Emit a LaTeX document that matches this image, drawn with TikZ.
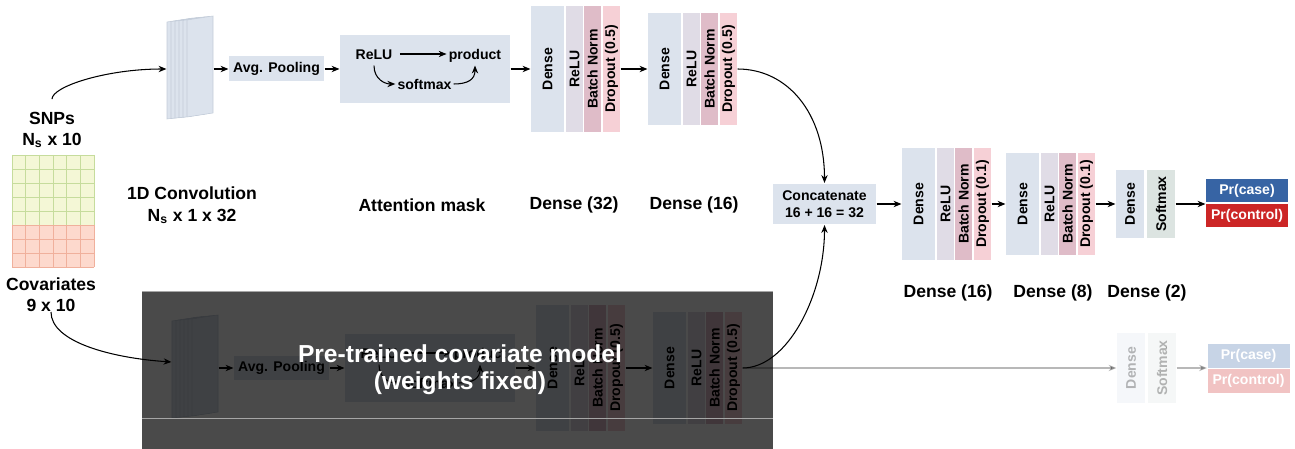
\documentclass[tikz,border=0pt]{standalone}
\usepackage{fontspec}
\setmainfont{Liberation Sans}
\usetikzlibrary{arrows.meta}

\definecolor{densec}{HTML}{DCE3ED}
\definecolor{reluc}{HTML}{E0DCE6}
\definecolor{bnc}{HTML}{DFBCC8}
\definecolor{dropc}{HTML}{F6D0D6}
\definecolor{softc}{HTML}{DCE4E1}
\definecolor{casec}{HTML}{3764A4}
\definecolor{ctrlc}{HTML}{CC2626}
\definecolor{snpfill}{HTML}{F4F7D6}
\definecolor{snpline}{HTML}{C6DC9C}
\definecolor{covfill}{HTML}{FDD9CD}
\definecolor{covline}{HTML}{F0B09C}
\definecolor{sheetline}{HTML}{C3CCD9}

% four columns of one dense layer: name, left x, centre y, height, dropout
\newcommand{\denseblock}[5]{%
  \node[col, fill=densec, minimum height=0.66cm, minimum width=#4] (#1-dense) at ({#2+16.5},#3) {Dense};
  \node[col, fill=reluc, minimum height=0.34cm, minimum width=#4] (#1-relu) at ({#2+43.5},#3) {ReLU};
  \node[col, fill=bnc, minimum height=0.34cm, minimum width=#4] (#1-bn) at ({#2+61.5},#3) {Batch Norm};
  \node[col, fill=dropc, minimum height=0.34cm, minimum width=#4] (#1-drop) at ({#2+80.5},#3) {Dropout (#5)};
}

% conv -> pooling -> attention -> dense (32) -> dense (16)
\newcommand{\pipeline}[1]{%
  \foreach \i in {0,...,5}
    \filldraw[sheet] ({167+4*\i},{22-0.4*\i}) -- ++(26,-4) -- ++(0,97) -- ++(-26,4) -- cycle;
  \node[inner sep=0, minimum width=0.92cm, minimum height=2cm] (#1-conv) at (190,69) {};
  \node[box, minimum width=1.9cm, minimum height=0.5cm] (#1-pool) at (276.5,69) {Avg. Pooling};
  \node[box, minimum width=3.4cm, minimum height=1.36cm] (#1-att) at (425,69) {};
  \node[op] (#1-relu) at (374,54) {ReLU};
  \node[op] (#1-prod) at (475,54) {product};
  \node[op] (#1-soft) at (424.5,84) {softmax};
  \draw[->, shorten <=3pt] (#1-relu) -- (#1-prod);
  \draw[->] (#1-relu.south) .. controls +(0,14) and +(-10,0) .. (#1-soft.west);
  \draw[->] (#1-soft.east) .. controls +(14,0) and +(0,14) .. (#1-prod.south);
  \denseblock{#1-d32}{531}{69}{2.54cm}{0.5}
  \denseblock{#1-d16}{648}{69}{2.24cm}{0.5}
  \draw[->] (#1-conv) -- (#1-pool);
  \draw[->] (#1-pool) -- (#1-att);
  \draw[->] (#1-att) -- (#1-d32-dense);
  \draw[->] (#1-d32-drop) -- (#1-d16-dense);
}

\begin{document}
\begin{tikzpicture}[x=0.02cm, y=-0.02cm, line width=0.6pt,
    >={Stealth[length=4.5pt, width=3.6pt]},
    box/.style={fill=densec, inner sep=0, font=\fontsize{8}{9.6}\selectfont\bfseries},
    col/.style={rotate=90, inner sep=0, font=\fontsize{8}{9.6}\selectfont\bfseries},
    op/.style={inner sep=1pt, text height=1.6ex, text depth=0.4ex, font=\fontsize{8}{9.6}\selectfont\bfseries},
    prbox/.style={minimum width=1.64cm, minimum height=0.48cm, inner sep=0, text=white, font=\fontsize{8}{9.6}\selectfont\bfseries},
    caption/.style={align=center, inner sep=0, font=\fontsize{10}{12}\selectfont\bfseries},
    sheet/.style={fill=densec, draw=sheetline, line width=0.3pt}]
\useasboundingbox (0,0) rectangle (1295,449);

% input matrix: SNP rows on top, covariate rows below
\fill[snpfill] (12,155) rectangle (94,225);
\fill[covfill] (12,225) rectangle (94,267);
\foreach \c in {0,...,6} {
  \draw[snpline, line width=0.5pt] ({12+\c*82/6},155) -- ++(0,70);
  \draw[covline, line width=0.5pt] ({12+\c*82/6},225) -- ++(0,42);
}
\foreach \r in {0,...,4}
  \draw[snpline, line width=0.5pt] (12,{155+\r*14}) -- ++(82,0);
\foreach \r in {0,...,3}
  \draw[covline, line width=0.5pt] (12,{225+\r*14}) -- ++(82,0);

\node[caption] (snp) at (52,130) {SNPs\\N\textsubscript{s} x 10};
\node[caption] (cov) at (51,294.5) {Covariates\\9 x 10};

% SNP branch
\pipeline{u}

\node[caption] (cap-conv) at (192,205.5) {1D Convolution\\N\textsubscript{s} x 1 x 32};
\node[caption] (cap-att) at (422,205) {Attention mask};
\node[caption] (cap-d32) at (574,205) {Dense (32)};
\node[caption] (cap-d16) at (694,205) {Dense (16)};

% covariate branch, frozen
\begin{scope}[shift={(5,299)}]
  \pipeline{l}
\end{scope}
\draw[->] (cov.south) .. controls +(0,30) and +(-60,-4) .. ([yshift=0.12cm]l-conv.west);
\draw[->, shorten <=7pt] (snp.north) .. controls +(0,-25) and +(-60,0) .. (u-conv.west);

\fill[black, opacity=0.71] (142,291) rectangle (773,449);
\draw[gray!70, line width=0.4pt] (142,291) -- (773,291);
\draw[gray!70, line width=0.4pt] (142,418) -- (773,418);
\node[text=white, align=center, font=\fontsize{14}{15.5}\selectfont\bfseries] (frozen) at (460,370)
  {Pre-trained covariate model\\(weights fixed)};

% merge and classifier head
\node[box, minimum width=2.06cm, minimum height=0.82cm, align=center] (concat) at (824.5,204) {Concatenate\\16 + 16 = 32};
\draw[->] (u-d16-drop.south) .. controls +(50,0) and +(0,-70) .. (concat.north);
\draw[->] (l-d16-drop.south) .. controls +(45,0) and +(0,70) .. (concat.south);

\denseblock{d16}{902}{204}{2.24cm}{0.1}
\denseblock{d8}{1006}{204}{2.04cm}{0.1}
\node[col, fill=densec, minimum height=0.56cm, minimum width=1.38cm] (d2-dense) at (1130,204) {Dense};
\node[col, fill=softc, minimum height=0.56cm, minimum width=1.38cm] (d2-soft) at (1161,204) {Softmax};
\node[prbox, fill=casec] (case) at (1247,190.5) {Pr(case)};
\node[prbox, fill=ctrlc] (ctrl) at (1247,215.5) {Pr(control)};

\draw[->] (concat) -- (d16-dense);
\draw[->] (d16-drop) -- (d8-dense);
\draw[->] (d8-drop) -- (d2-dense);
\draw[->] (d2-soft) -- (d2-soft -| case.west);

\node[caption] (cap-h16) at (948,293) {Dense (16)};
\node[caption] (cap-h8) at (1053,293) {Dense (8)};
\node[caption] (cap-h2) at (1147,293) {Dense (2)};

% covariate-only head, faded
\begin{scope}[opacity=0.28]
  \node[col, fill=densec, minimum height=0.56cm, minimum width=1.4cm] (f-dense) at (1131,368) {Dense};
  \node[col, fill=softc, minimum height=0.56cm, minimum width=1.4cm] (f-soft) at (1162,368) {Softmax};
  \node[prbox, fill=casec, text opacity=1] (f-case) at (1248.5,356) {Pr(case)};
  \node[prbox, fill=ctrlc, text opacity=1] (f-ctrl) at (1248.5,381) {Pr(control)};
  \draw[->] (l-d16-drop) -- (f-dense);
  \draw[->] (f-soft) -- (f-soft -| f-case.west);
\end{scope}
\end{tikzpicture}
\end{document}
